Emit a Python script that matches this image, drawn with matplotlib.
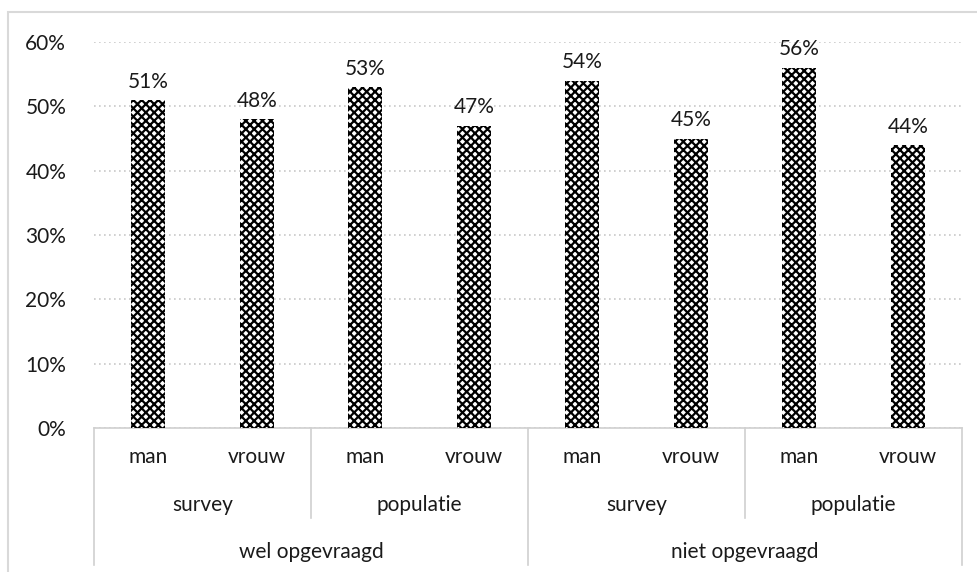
import numpy as np
import matplotlib.pyplot as plt
from matplotlib.patches import Rectangle

# Data
sex_labels = ["man", "vrouw", "man", "vrouw", "man", "vrouw", "man", "vrouw"]
source_labels = ["survey", "populatie", "survey", "populatie"]
asked_labels = ["wel opgevraagd", "niet opgevraagd"]
values = [51, 48, 53, 47, 54, 45, 56, 44]

plt.rcParams["font.family"] = ["Lato", "DejaVu Sans"]
plt.rcParams["hatch.linewidth"] = 1.6
plt.rcParams["hatch.color"] = "black"

FS = 15
TXT = "#1a1a1a"

W, H = 977, 572
fig = plt.figure(figsize=(W / 100, H / 100), dpi=100)
ax = fig.add_axes([94 / W, 1 - 428 / H, (962 - 94) / W, (428 - 42) / H])

x = np.arange(len(values))
bars = ax.bar(x, values, width=0.31, facecolor="white", edgecolor="black",
              hatch="xxxx", linewidth=0, zorder=3)

for xi, v in zip(x, values):
    ax.annotate(f"{v}%", (xi, v), xytext=(0, 6), textcoords="offset points",
                ha="center", va="bottom", fontsize=FS, color=TXT)

ax.set_xlim(-0.5, len(values) - 0.5)
ax.set_ylim(0, 60)
ax.set_yticks(range(0, 61, 10))
ax.set_yticklabels([f"{t}%" for t in range(0, 61, 10)], fontsize=FS, color=TXT)
ax.tick_params(axis="y", length=0, pad=20)
ax.set_xticks([])
ax.yaxis.grid(True, linestyle=(0, (1, 2)), color="#c8c8c8", linewidth=1.2, zorder=0)
for s in ["top", "right", "left"]:
    ax.spines[s].set_visible(False)
ax.spines["bottom"].set_color("#d0d0d0")
ax.spines["bottom"].set_linewidth(1.2)

# Hierarchical category axis
tr = ax.get_xaxis_transform()
ax_h = 428 - 42
def yfrac(py):
    return (428 - py) / ax_h

line_kw = dict(color="#d0d0d0", linewidth=1.2, clip_on=False, transform=tr)
for xi, lab in zip(x, sex_labels):
    ax.text(xi, yfrac(457), lab, ha="center", va="center", fontsize=FS,
            color=TXT, transform=tr)
for i, lab in enumerate(source_labels):
    ax.text(2 * i + 0.5, yfrac(505), lab, ha="center", va="center", fontsize=FS,
            color=TXT, transform=tr)
for i, lab in enumerate(asked_labels):
    ax.text(4 * i + 1.5, yfrac(552), lab, ha="center", va="center", fontsize=FS,
            color=TXT, transform=tr)

# separators
for b in [1.5, 5.5]:
    ax.plot([b, b], [0, yfrac(518)], **line_kw)
for b in [-0.5, 3.5, 7.5]:
    ax.plot([b, b], [0, yfrac(565)], **line_kw)

# outer chart border
fig.patches.append(Rectangle((8 / W, -0.1), 2, 1 - 12 / H + 0.1, transform=fig.transFigure,
                             fill=False, edgecolor="#d9d9d9", linewidth=1.5))

fig.savefig("out.png", dpi=100)
